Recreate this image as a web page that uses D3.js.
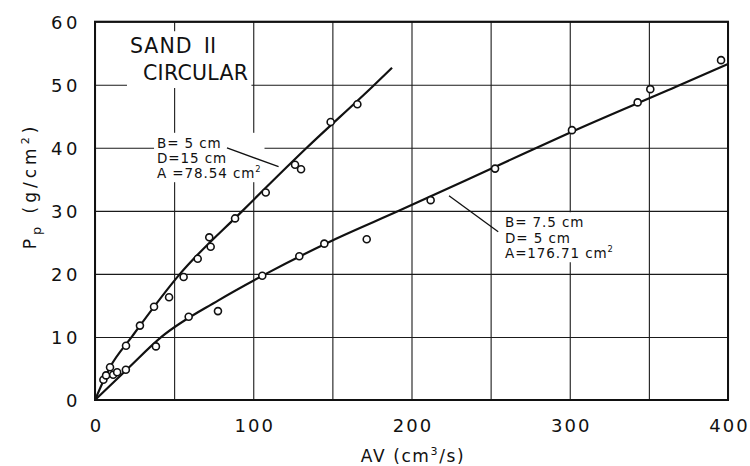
<!DOCTYPE html>
<html>
<head>
<meta charset="utf-8">
<script src="https://cdn.jsdelivr.net/npm/d3@7"></script>
<style>
  html, body { margin: 0; padding: 0; background: #fff; }
  svg { display: block; }
  text { font-family: "DejaVu Sans", sans-serif; fill: #111; }
</style>
</head>
<body>
<svg id="chart" width="750" height="466"></svg>
<script>
// ---- data ----
const xTickLabels = [0, 100, 200, 300, 400];
const xGridValues = [0, 50, 100, 150, 200, 250, 300, 350, 400];
const yTickLabels = [0, 10, 20, 30, 40, 50, 60];

// B = 5 cm, D = 15 cm, A = 78.54 cm² (steep series)
const steepAV = [5.3, 7.0, 9.5, 19.6, 28.4, 37.3, 46.8, 56.0, 64.9, 72.2, 73.1, 88.5, 107.9, 126.4, 130.2, 148.9, 165.8];
const steepPp = [3.2, 3.9, 5.2, 8.6, 11.8, 14.8, 16.3, 19.5, 22.4, 25.8, 24.3, 28.8, 32.9, 37.3, 36.6, 44.1, 46.9];
// fitted curve of the steep series
const steepFitAV = [0, 9.5, 23.2, 53.7, 93.2, 133.8, 176.6, 187.7];
const steepFitPp = [0, 5.2, 10, 20, 30, 40, 50, 52.7];

// B = 7.5 cm, D = 5 cm, A = 176.71 cm² (flat series)
const flatAV = [11.5, 14.0, 19.5, 38.5, 59.2, 77.7, 105.7, 129.1, 144.9, 171.7, 212.1, 252.8, 301.4, 342.9, 350.9, 395.6];
const flatPp = [4.0, 4.4, 4.8, 8.5, 13.2, 14.1, 19.7, 22.8, 24.8, 25.5, 31.7, 36.7, 42.8, 47.2, 49.3, 53.9];
// fitted curve of the flat series
const flatFitAV = [0, 20, 42, 78, 108, 150, 192, 253, 300, 370, 400];
const flatFitPp = [0, 4.8, 10, 15.8, 20, 25.3, 30, 37, 42.4, 50, 53.3];

// annotations (data coordinates)
const titleLines = ["SAND", "CIRCULAR"];
const titleNumeral = "\u2161";
const titlePos = [[22.1, 55.0], [30.3, 50.75]];
const note1Lines = [["B= 5 cm", ""], ["D=15 cm", ""], ["A =78.54 cm", "2"]];
const note1Pos = [39.2, 40.0];
const note1Leader = [[83.4, 40.0], [116.0, 37.0]];
const note2Lines = [["B= 7.5 cm", ""], ["D= 5 cm", ""], ["A=176.71 cm", "2"]];
const note2Pos = [259.1, 27.4];
const note2Leader = [[223.7, 32.4], [254.8, 26.7]];

// ---- chart ----
const svg = d3.select("#chart");
const pLeft = 95, pRight = 728, pTop = 21.7, pBottom = 400;
const x = d3.scaleLinear().domain([0, 400]).range([pLeft, pRight]);
const y = d3.scaleLinear().domain([0, 60]).range([pBottom, pTop]);

// grid
const gx = svg.append("g").attr("transform", `translate(0,${pBottom})`)
  .call(d3.axisBottom(x).tickValues(xGridValues).tickSize(-(pBottom - pTop)).tickFormat(""));
gx.select(".domain").remove();
gx.selectAll("line").attr("stroke", "#1a1a1a").attr("stroke-width", 1.1);

const gy = svg.append("g").attr("transform", `translate(${pLeft},0)`)
  .call(d3.axisLeft(y).tickValues(yTickLabels).tickSize(-(pRight - pLeft)).tickFormat(""));
gy.select(".domain").remove();
gy.selectAll("line").attr("stroke", "#1a1a1a").attr("stroke-width", 1.1);

// tick labels
const xl = svg.append("g").attr("transform", `translate(0,${pBottom})`)
  .call(d3.axisBottom(x).tickValues(xTickLabels).tickSize(0).tickPadding(19).tickFormat(d3.format("d")));
xl.select(".domain").remove();
xl.selectAll("text").attr("font-size", 18).attr("font-family", "DejaVu Sans")
  .attr("letter-spacing", 2).attr("dx", 1).attr("fill", "#111");

const yl = svg.append("g").attr("transform", `translate(${pLeft},0)`)
  .call(d3.axisLeft(y).tickValues(yTickLabels).tickSize(0).tickPadding(14).tickFormat(d3.format("d")));
yl.select(".domain").remove();
yl.selectAll("text").attr("font-size", 18).attr("font-family", "DejaVu Sans")
  .attr("letter-spacing", 3.5).attr("dy", "0.36em").attr("fill", "#111");

// axis titles
const xt = svg.append("text").attr("x", 413).attr("y", 462).attr("text-anchor", "middle")
  .attr("font-size", 17).attr("letter-spacing", 1.6);
xt.append("tspan").text("AV (cm");
xt.append("tspan").attr("font-size", 11).attr("dy", -7).text("3");
xt.append("tspan").attr("dy", 7).text("/s)");

const yt = svg.append("text").attr("transform", "translate(36,186) rotate(-90)")
  .attr("text-anchor", "middle").attr("font-size", 17).attr("letter-spacing", 4);
yt.append("tspan").text("P");
yt.append("tspan").attr("font-size", 13).attr("dy", 5).text("p");
yt.append("tspan").attr("dy", -5).text(" (g/cm");
yt.append("tspan").attr("font-size", 11).attr("dy", -7).text("2");
yt.append("tspan").attr("dy", 7).text(")");

// annotation blocks with white backgrounds
function block(lines, pos, size, lineH, spacing) {
  const g = svg.append("g");
  const bg = g.append("rect").attr("fill", "#fff");
  const texts = [];
  lines.forEach((ln, i) => {
    const t = g.append("text").attr("font-size", size).attr("letter-spacing", spacing)
      .attr("x", x(pos[0])).attr("y", y(pos[1]) + i * lineH);
    t.append("tspan").text(ln[0]);
    if (ln[1]) {
      t.append("tspan").attr("font-size", size * 0.62).attr("dy", -size * 0.45).text(ln[1]);
    }
    texts.push(t.node());
  });
  const boxes = texts.map(n => n.getBBox());
  const x0 = d3.min(boxes, b => b.x), x1 = d3.max(boxes, b => b.x + b.width);
  const y0 = d3.min(boxes, b => b.y), y1 = d3.max(boxes, b => b.y + b.height);
  bg.attr("x", x0 - 3).attr("y", y0 - 2).attr("width", x1 - x0 + 6).attr("height", y1 - y0 + 3);
  return g;
}

// title block
{
  const g = svg.append("g");
  const bg = g.append("rect").attr("fill", "#fff");
  const t1 = g.append("text").attr("font-size", 20.5).attr("letter-spacing", 1)
    .attr("x", x(titlePos[0][0])).attr("y", y(titlePos[0][1]));
  t1.append("tspan").text(titleLines[0]);
  t1.append("tspan").attr("dx", 7).attr("font-family", "Noto Sans CJK JP").attr("font-size", 21)
    .text(titleNumeral);
  const t2 = g.append("text").attr("font-size", 20.5).attr("letter-spacing", 0.3)
    .attr("x", x(titlePos[1][0])).attr("y", y(titlePos[1][1])).text(titleLines[1]);
  const b1 = t1.node().getBBox(), b2 = t2.node().getBBox();
  const x0 = Math.min(b1.x, b2.x), x1 = Math.max(b1.x + b1.width, b2.x + b2.width);
  const y0 = Math.min(b1.y, b2.y), y1 = Math.max(b1.y + b1.height, b2.y + b2.height);
  bg.attr("x", x0 - 3).attr("y", y0 + 2).attr("width", x1 - x0 + 6).attr("height", y1 - y0 + 1);
}

block(note1Lines, note1Pos, 13.5, 15.2, 0.9);
block(note2Lines, note2Pos, 13.5, 15.5, 0.9);

// leader lines
[note1Leader, note2Leader].forEach(L => {
  svg.append("line")
    .attr("x1", x(L[0][0])).attr("y1", y(L[0][1]))
    .attr("x2", x(L[1][0])).attr("y2", y(L[1][1]))
    .attr("stroke", "#111").attr("stroke-width", 1.3);
});

// fitted curves
const lineGen = d3.line().x(d => x(d[0])).y(d => y(d[1])).curve(d3.curveMonotoneX);
const steepFit = steepFitAV.map((v, i) => [v, steepFitPp[i]]);
const flatFit = flatFitAV.map((v, i) => [v, flatFitPp[i]]);
[steepFit, flatFit].forEach(pts => {
  svg.append("path").datum(pts).attr("d", lineGen)
    .attr("fill", "none").attr("stroke", "#111").attr("stroke-width", 2.2);
});

// markers
const steepPts = steepAV.map((v, i) => [v, steepPp[i]]);
const flatPts = flatAV.map((v, i) => [v, flatPp[i]]);
svg.append("g").selectAll("circle").data(steepPts.concat(flatPts)).join("circle")
  .attr("cx", d => x(d[0])).attr("cy", d => y(d[1])).attr("r", 3.5)
  .attr("fill", "#fff").attr("stroke", "#111").attr("stroke-width", 1.6);

// frame
svg.append("rect").attr("x", pLeft).attr("y", pTop)
  .attr("width", pRight - pLeft).attr("height", pBottom - pTop)
  .attr("fill", "none").attr("stroke", "#111").attr("stroke-width", 2);
</script>
</body>
</html>
